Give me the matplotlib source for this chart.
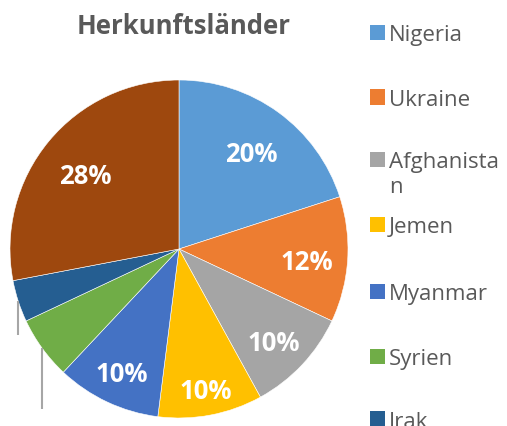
import matplotlib
matplotlib.use("Agg")
import matplotlib.pyplot as plt
from matplotlib.patches import Rectangle
import numpy as np

categories = ["Nigeria", "Ukraine", "Afghanistan", "Jemen", "Myanmar", "Syrien", "Irak", "Andere"]
legend_labels = ["Nigeria", "Ukraine", "Afghanista\nn", "Jemen", "Myanmar", "Syrien", "Irak"]
values = [20, 12, 10, 10, 10, 6, 4, 28]
colors = ["#5B9BD5", "#ED7D31", "#A5A5A5", "#FFC000", "#4472C4", "#70AD47", "#255E91", "#9E480E"]
inside_label = [True, True, True, True, True, False, False, True]

W, H = 507, 427
fig = plt.figure(figsize=(W / 100, H / 100), dpi=100)
cx, cy, r = 179, 250, 169
ax = fig.add_axes([(cx - r) / W, (H - cy - r) / H, 2 * r / W, 2 * r / H])

wedges, _ = ax.pie(values, colors=colors, startangle=90, counterclock=False,
                   radius=1, wedgeprops=dict(edgecolor="white", linewidth=0.4))
ax.set_xlim(-1, 1)
ax.set_ylim(-1, 1)
ax.set_aspect("equal")
ax.axis("off")

total = sum(values)
leader_len = {5: 0.36, 6: 0.20}
label_dist = [0.73, 0.76, 0.77, 0.83, 0.79, 0, 0, 0.72]
dy = -4 / r
for i, w in enumerate(wedges):
    ang = np.deg2rad((w.theta1 + w.theta2) / 2)
    if inside_label[i]:
        d = label_dist[i]
        ax.text(d * np.cos(ang), d * np.sin(ang) + dy, f"{values[i] / total * 100:.0f}%",
                ha="center", va="center", color="white", fontsize=18.5,
                fontweight="bold", family=["Open Sans", "DejaVu Sans"])
    else:
        x0, y0 = np.cos(ang), np.sin(ang)
        ax.plot([x0, x0], [y0, y0 - leader_len[i]], color="#A6A6A6", lw=1.5,
                clip_on=False, solid_capstyle="butt")

fig.text(184 / W, 1 - 26 / H, "Herkunftsländer", ha="center", va="center",
         fontsize=18.5, fontweight="bold", color="#595959", family=["Open Sans", "DejaVu Sans"])

ys = [33, 98, 160, 225, 292, 357, 420]
for lab, col, y in zip(legend_labels, colors, ys):
    s = 15
    fig.patches.append(Rectangle((370 / W, 1 - (y + s / 2) / H), s / W, s / H,
                                 transform=fig.transFigure, facecolor=col, edgecolor="none"))
    fig.text(389 / W, 1 - (y + 8) / H, lab.split("\n")[0], ha="left", va="baseline", fontsize=16,
             color="#595959", family=["Open Sans", "DejaVu Sans"])
    if "\n" in lab:
        fig.text(389 / W, 1 - (y + 33) / H, lab.split("\n")[1], ha="left", va="baseline",
                 fontsize=16, color="#595959", family=["Open Sans", "DejaVu Sans"])

fig.savefig("out.png", dpi=100)
